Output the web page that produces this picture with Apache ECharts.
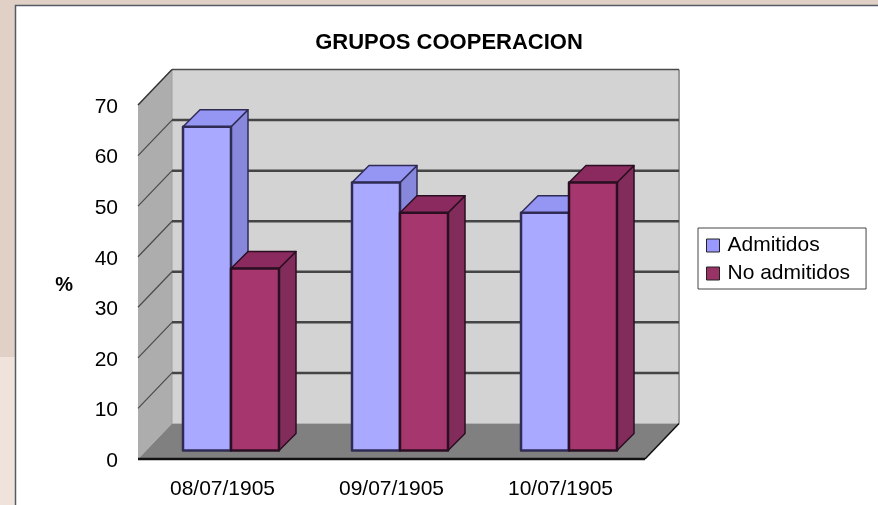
<!DOCTYPE html>
<html>
<head>
<meta charset="utf-8">
<style>
    html, body { margin: 0; padding: 0; background: #e0d0c6; }
    #chart { width: 878px; height: 505px; }
</style>
<script src="https://cdn.jsdelivr.net/npm/echarts@6/dist/echarts.min.js"></script>
</head>
<body>
<div id="chart"></div>
<script>
// data
const categories = ['08/07/1905', '09/07/1905', '10/07/1905'];
const admitidos = [64, 53, 47];
const noAdmitidos = [36, 47, 53];
const yTicks = [0, 10, 20, 30, 40, 50, 60, 70];

const fontName = '"Liberation Sans", Arial, sans-serif';
const DEPTH_X = 34;     // wall depth in px
const DEPTH_Y = 35.5;
const BAR_DEPTH = 17;   // depth of one bar
const BAR_WIDTH = 48;
const INSET = 8.5;      // bars stand this far back from the front plane

const blue = { front: '#a9a9ff', top: '#9595f4', side: '#8787dc', line: '#2f2b55' };
const red = { front: '#a6366e', top: '#8b2a5e', side: '#822c5b', line: '#2a0f22' };

function poly(points, fill, stroke, lineWidth) {
    return {
        type: 'polygon',
        shape: { points: points },
        style: { fill: fill, stroke: stroke || null, lineWidth: lineWidth || 0, lineJoin: 'round' }
    };
}

function line(a, b, stroke, width) {
    return {
        type: 'line',
        shape: { x1: a[0], y1: a[1], x2: b[0], y2: b[1] },
        style: { stroke: stroke, lineWidth: width }
    };
}

// back wall, side wall and floor
function renderWalls(params, api) {
    const grid = params.coordSys;
    const left = grid.x;
    const right = grid.x + grid.width;
    const top = grid.y;
    const bottom = grid.y + grid.height;
    const bl = left + DEPTH_X;
    const br = right + DEPTH_X;
    const bt = top - DEPTH_Y;
    const bb = bottom - DEPTH_Y;
    return {
        type: 'group',
        children: [
            poly([[bl, bt], [br, bt], [br, bb], [bl, bb]], '#d3d3d3'),
            poly([[left, top], [bl, bt], [bl, bb], [left, bottom]], '#adadad'),
            poly([[left, bottom], [bl, bb], [br, bb], [right, bottom]], '#808080'),
            line([bl, bt], [bl, bb], '#a0a0a0', 1),
            line([br, bt], [br, bb], '#9a9a9a', 2),
            line([bl, bt], [br, bt], '#4a4a4a', 1.5),
            line([left, top], [bl, bt], '#333333', 1.5),
            line([right, bottom], [br, bb], '#111111', 1.5),
            line([left, bottom], [right, bottom], '#111111', 2.5)
        ]
    };
}

// one gridline per tick, across the side wall and the back wall
function renderGridline(params, api) {
    const grid = params.coordSys;
    const value = api.value(0);
    const y = api.coord([0, value])[1];
    const left = grid.x;
    const right = grid.x + grid.width;
    if (value === 0 || value === yTicks[yTicks.length - 1]) {
        return { type: 'group', children: [] };
    }
    return {
        type: 'group',
        children: [
            line([left, y], [left + DEPTH_X, y - DEPTH_Y], '#4a4a4a', 1.2),
            line([left + DEPTH_X, y - DEPTH_Y], [right + DEPTH_X, y - DEPTH_Y], '#454545', 2.5)
        ]
    };
}

function barRenderer(colors, barIndex) {
    return function (params, api) {
        const idx = api.value(0);
        const center = api.coord([idx, 0])[0] + INSET;
        const x0 = center + (barIndex - 1) * BAR_WIDTH;
        const x1 = x0 + BAR_WIDTH;
        const y0 = api.coord([idx, 0])[1] - INSET;
        const y1 = api.coord([idx, api.value(1)])[1] - INSET;
        const d = BAR_DEPTH;
        return {
            type: 'group',
            children: [
                poly([[x1, y1], [x1 + d, y1 - d], [x1 + d, y0 - d], [x1, y0]], colors.side, colors.line, 1.5),
                poly([[x0, y1], [x0 + d, y1 - d], [x1 + d, y1 - d], [x1, y1]], colors.top, colors.line, 1.5),
                poly([[x0, y1], [x1, y1], [x1, y0], [x0, y0]], colors.front, colors.line, 2.5)
            ]
        };
    };
}

function barData(values) {
    return values.map(function (v, i) { return [i, v]; });
}

const chart = echarts.init(document.getElementById('chart'), null, { renderer: 'canvas' });

chart.setOption({
    animation: false,
    backgroundColor: '#e0d0c6',
    graphic: [
        { type: 'rect', z: -10, silent: true, shape: { x: 0, y: 357, width: 16, height: 148 }, style: { fill: '#efe3db' } },
        { type: 'rect', z: -9, silent: true, shape: { x: 15.5, y: 5.5, width: 880, height: 520 }, style: { fill: '#ffffff', stroke: '#555b66', lineWidth: 1.5 } }
    ],
    title: {
        text: 'GRUPOS COOPERACION',
        left: 444,
        top: 27,
        textAlign: 'center',
        textStyle: { fontFamily: fontName, fontSize: 22, fontWeight: 'bold', color: '#000000' }
    },
    legend: {
        data: ['Admitidos', 'No admitidos'],
        orient: 'vertical',
        left: 698,
        top: 228,
        padding: [7, 16, 5, 8],
        itemWidth: 13,
        itemHeight: 13,
        itemGap: 7,
        icon: 'rect',
        backgroundColor: '#ffffff',
        borderColor: '#444444',
        borderWidth: 1,
        selectedMode: false,
        itemStyle: { borderColor: '#222222', borderWidth: 1 },
        textStyle: { fontFamily: fontName, fontSize: 21, color: '#000000', padding: [0, 0, 0, 3] }
    },
    grid: { left: 138, top: 105, width: 507, height: 354 },
    xAxis: {
        type: 'category',
        data: categories,
        axisLine: { show: false },
        axisTick: { show: false },
        axisLabel: { margin: 20, fontFamily: fontName, fontSize: 21, color: '#000000' }
    },
    yAxis: {
        type: 'value',
        min: 0,
        max: 70,
        interval: 10,
        name: '{p|%}',
        nameLocation: 'middle',
        nameRotate: 0,
        nameGap: 65,
        nameTextStyle: {
            rich: { p: { fontFamily: fontName, fontSize: 20, fontWeight: 'bold', color: '#000000', padding: [6, 0, 0, 0] } }
        },
        axisLine: { show: false },
        axisTick: { show: false },
        splitLine: { show: false },
        axisLabel: {
            margin: 20,
            formatter: '{n|{value}}',
            rich: { n: { fontFamily: fontName, fontSize: 21, color: '#000000', padding: [4, 0, 0, 0] } }
        }
    },
    series: [
        { type: 'custom', name: 'walls', silent: true, clip: false, renderItem: renderWalls, data: [[0]], encode: { y: 0 } },
        { type: 'custom', name: 'gridlines', silent: true, clip: false, renderItem: renderGridline, data: yTicks.map(function (t) { return [t]; }), encode: { y: 0 } },
        { type: 'custom', name: 'Admitidos', clip: false, renderItem: barRenderer(blue, 0), data: barData(admitidos), encode: { x: 0, y: 1 }, itemStyle: { color: '#9999ff' } },
        { type: 'custom', name: 'No admitidos', clip: false, renderItem: barRenderer(red, 1), data: barData(noAdmitidos), encode: { x: 0, y: 1 }, itemStyle: { color: '#993366' } }
    ]
});
</script>
</body>
</html>
